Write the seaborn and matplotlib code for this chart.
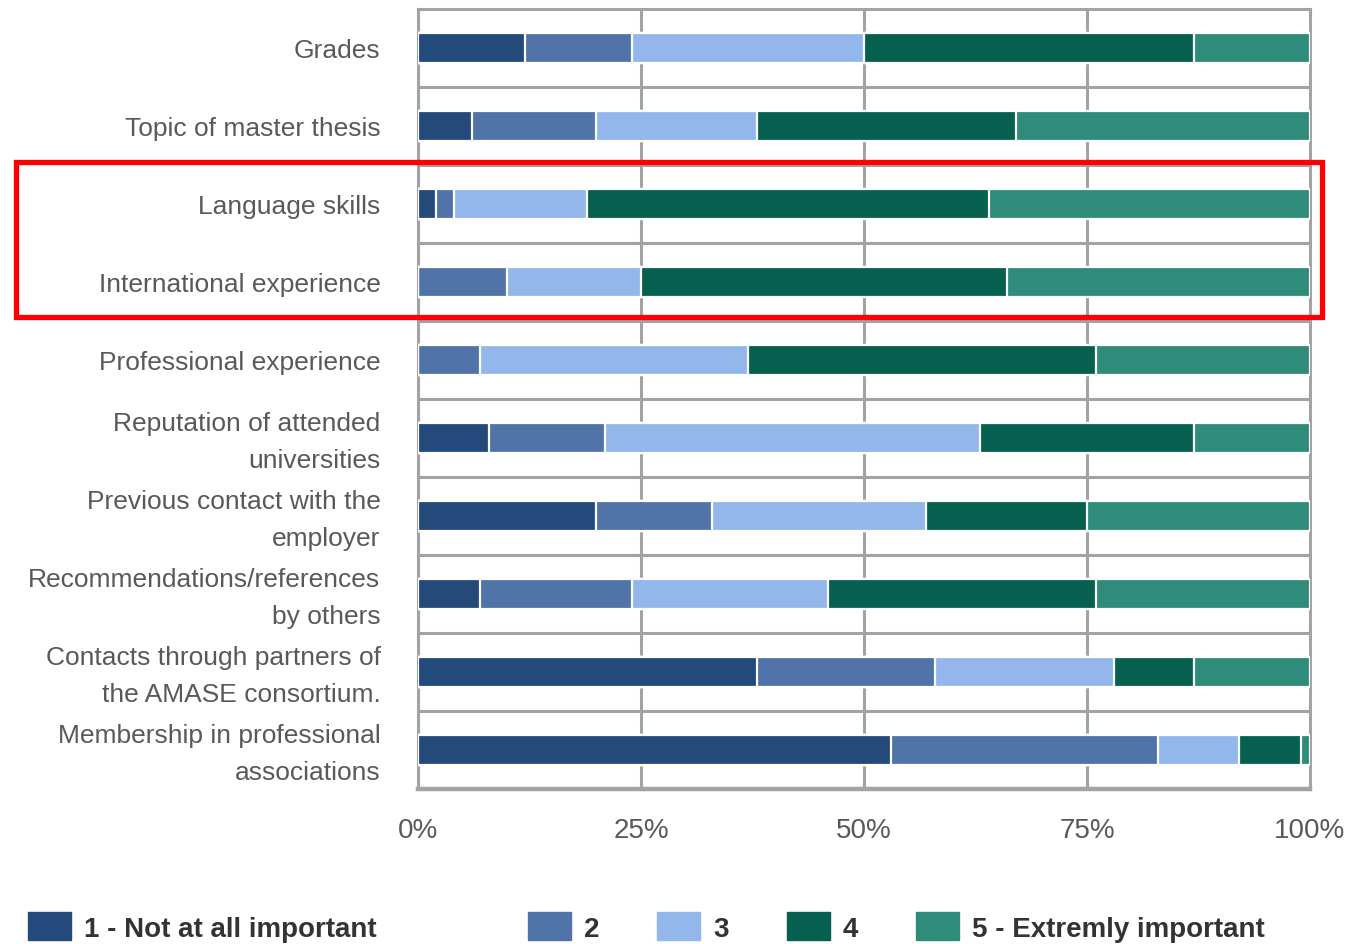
import matplotlib
matplotlib.use("Agg")
import matplotlib.pyplot as plt
import matplotlib.font_manager as fm
import matplotlib.transforms as mtransforms
from matplotlib.patches import Patch, Rectangle
import seaborn as sns
import numpy as np

categories = [
    "Grades",
    "Topic of master thesis",
    "Language skills",
    "International experience",
    "Professional experience",
    "Reputation of attended\nuniversities",
    "Previous contact with the\nemployer",
    "Recommendations/references\nby others",
    "Contacts through partners of\nthe AMASE consortium.",
    "Membership in professional\nassociations",
]
level_names = ["1 - Not at all important", "2", "3", "4", "5 - Extremly important"]
l1 = [12, 6, 2, 0, 0, 8, 20, 7, 38, 53]
l2 = [12, 14, 2, 10, 7, 13, 13, 17, 20, 30]
l3 = [26, 18, 15, 15, 30, 42, 24, 22, 20, 9]
l4 = [37, 29, 45, 41, 39, 24, 18, 30, 9, 7]
l5 = [13, 33, 36, 34, 24, 13, 25, 24, 13, 1]
x_ticks = [0, 25, 50, 75, 100]
x_tick_labels = ["0%", "25%", "50%", "75%", "100%"]

colors = ["#244a7c", "#5074a8", "#93b7ea", "#066050", "#2f8b7a"]

sns.set_theme(style="white")
plt.rcParams["font.family"] = ["Liberation Sans", "DejaVu Sans"]

installed = {f.name for f in fm.fontManager.ttflist}
narrow = "Liberation Sans Narrow" if "Liberation Sans Narrow" in installed else "Liberation Sans"

fig = plt.figure(figsize=(13.51, 9.45), dpi=100)
ax = fig.add_axes([418 / 1351, 1 - 790 / 945, (1310 - 418) / 1351, 780 / 945])

levels = np.array([l1, l2, l3, l4, l5], dtype=float)
cum = np.cumsum(levels, axis=0)

# stacked bars: draw the cumulative totals from the top level down
for k in range(4, -1, -1):
    sns.barplot(x=cum[k], y=categories, orient="h", color=colors[k],
                saturation=1, width=0.375, edgecolor="white", linewidth=1.6,
                ax=ax, zorder=3)

grid_col = "#a3a3a3"
ax.set_xlim(0, 100)
ax.set_ylim(9.5, -0.5)
ax.set_xticks(x_ticks)
ax.set_xticklabels(x_tick_labels, fontsize=20, color="#595959", family=narrow)
ax.set_yticks(range(len(categories)))
ax.set_yticklabels(categories, fontsize=19, color="#595959")
ax.set_yticks(np.arange(0.5, 9, 1), minor=True)
ax.tick_params(which="both", length=0)
ax.tick_params(axis="y", pad=27)
ax.tick_params(axis="x", pad=20)
# two-line labels sit a little high in the original
lift = mtransforms.ScaledTranslation(0, 5 / 100, fig.dpi_scale_trans)
for lab in ax.get_yticklabels():
    lab.set_linespacing(1.65)
    if "\n" in lab.get_text():
        lab.set_transform(lab.get_transform() + lift)
ax.set_xlabel("")
ax.set_ylabel("")
ax.set_axisbelow(True)
ax.grid(axis="x", which="major", color=grid_col, linewidth=2.2)
ax.grid(axis="y", which="minor", color=grid_col, linewidth=2.2)
ax.grid(axis="y", which="major", visible=False)
for s in ax.spines.values():
    s.set_visible(True)
    s.set_color(grid_col)
    s.set_linewidth(2.2)
ax.spines["bottom"].set_linewidth(3.2)

handles = [Patch(facecolor=c, edgecolor=c) for c in colors]
leg_kw = dict(frameon=False, handlelength=1.55, handleheight=1.15,
              handletextpad=0.45, borderpad=0, borderaxespad=0,
              prop={"family": narrow, "weight": "bold", "size": 20})
leg1 = fig.legend(handles[:1], level_names[:1], loc="center left",
                  bbox_to_anchor=(28 / 1351, 1 - 928 / 945), **leg_kw)
leg2 = fig.legend(handles[1:], level_names[1:], loc="center left", ncol=4,
                  columnspacing=2.1,
                  bbox_to_anchor=(528 / 1351, 1 - 928 / 945), **leg_kw)
for leg in (leg1, leg2):
    for t in leg.get_texts():
        t.set_color("#333333")

# highlight box around the language / international rows
fig.patches.append(Rectangle((16 / 1351, 1 - 318 / 945), 1306 / 1351, 155 / 945,
                             transform=fig.transFigure, fill=False,
                             edgecolor="#ff0000", linewidth=3.8, zorder=10))

fig.savefig("out.png", dpi=100)
